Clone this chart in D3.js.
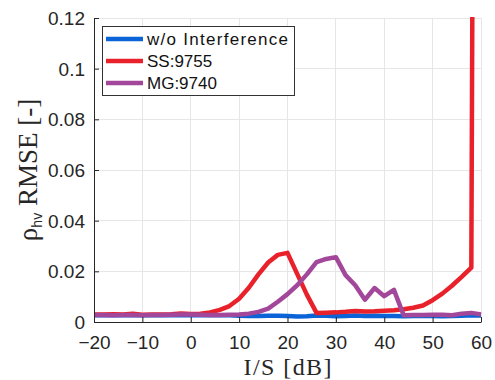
<!DOCTYPE html>
<html><head><meta charset="utf-8">
<script src="https://cdn.jsdelivr.net/npm/d3@7"></script>
<style>body{margin:0;background:#fff}svg{display:block}</style>
</head><body>
<svg id="c" width="495" height="380"></svg>
<script>
const isdB = [-20,-18,-16,-14,-12,-10,-8,-6,-4,-2,0,2,4,6,8,10,12,14,16,18,20,22,24,26,28,30,32,34,36,38,40,42,44,46,48,50,52,54,56,58,60];
const woInterference = [0.0027,0.0027,0.0027,0.0027,0.0027,0.0027,0.0027,0.0027,0.0027,0.0027,0.0027,0.0027,0.0027,0.0027,0.0027,
  0.0025,0.0024,0.0024,0.0025,0.0025,0.0024,0.0022,0.0023,0.0026,0.0025,0.0023,0.0024,0.0026,0.0024,0.0025,0.0024,0.0024,0.0023,0.0024,0.0024,0.0024,0.0023,0.0024,0.0025,0.0027,0.0026];
const ss9755 = [0.0030,0.0030,0.0031,0.0030,0.0033,0.0029,0.0030,0.0030,0.0031,0.0034,
  0.0032,0.0033,0.0038,0.0048,0.0063,0.0092,0.0135,0.0188,0.0235,0.0265,
  0.0273,0.0190,0.0108,0.0036,0.0037,0.0038,0.0040,0.0043,0.0041,0.0042,
  0.0044,0.0046,0.0050,0.0056,0.0065,0.0086,0.0112,0.0143,0.0178,0.0215,1.0];
const mg9740 = [0.0028,0.0028,0.0027,0.0028,0.0028,0.0027,0.0028,0.0028,0.0029,0.0030,
  0.0030,0.0029,0.0028,0.0028,0.0029,0.0030,0.0033,0.0040,0.0053,0.0080,
  0.0110,0.0145,0.0188,0.0236,0.0249,0.0256,0.0185,0.0145,0.0088,0.0134,
  0.0102,0.0127,0.0027,0.0028,0.0028,0.0029,0.0029,0.0027,0.0033,0.0036,0.0030];
const seriesNames = ["w/o Interference","SS:9755","MG:9740"];
const seriesColors = ["#0a64d8","#e8212a","#a3479b"];
const xTicks = [-20,-10,0,10,20,30,40,50,60];
const xTickLabels = ["\u221220","\u221210","0","10","20","30","40","50","60"];
const yTicks = [0,0.02,0.04,0.06,0.08,0.1,0.12];
const yTickLabels = ["0","0.02","0.04","0.06","0.08","0.1","0.12"];

const svg = d3.select("#c");
const L = 94, R = 481, T = 18, B = 322;
const x = d3.scaleLinear().domain([-20,60]).range([L,R]);
const y = d3.scaleLinear().domain([0,0.12]).range([B,T]);

// grid
const g = svg.append("g");
g.selectAll(".gx").data(xTicks).enter().append("line")
  .attr("x1",d=>x(d)).attr("x2",d=>x(d)).attr("y1",T).attr("y2",B)
  .attr("stroke","#e6e6e6").attr("stroke-width",1).attr("shape-rendering","crispEdges");
g.selectAll(".gy").data(yTicks).enter().append("line")
  .attr("x1",L).attr("x2",R).attr("y1",d=>y(d)).attr("y2",d=>y(d))
  .attr("stroke","#e6e6e6").attr("stroke-width",1).attr("shape-rendering","crispEdges");

svg.append("clipPath").attr("id","clip").append("rect")
  .attr("x",L).attr("y",T-1).attr("width",R-L+3).attr("height",B-T+1);

const series = [woInterference, ss9755, mg9740];
const line = d3.line().x((d,i)=>x(isdB[i])).y(d=>y(d));
const lg = svg.append("g").attr("clip-path","url(#clip)");
series.forEach((s,k)=>{
  lg.append("path").attr("d",line(s)).attr("fill","none")
    .attr("stroke",seriesColors[k]).attr("stroke-width",4.5)
    .attr("stroke-linejoin","round");
});

// axes
const font = "'Liberation Sans', Arial, sans-serif";
const xAxis = d3.axisBottom(x).tickValues(xTicks).tickFormat((d,i)=>xTickLabels[i])
  .tickSizeInner(-5).tickSizeOuter(0).tickPadding(14);
const ax = svg.append("g").attr("transform",`translate(0,${B})`).call(xAxis);
const yAxis = d3.axisLeft(y).tickValues(yTicks).tickFormat((d,i)=>yTickLabels[i])
  .tickSizeInner(-5).tickSizeOuter(0).tickPadding(9);
const ay = svg.append("g").attr("transform",`translate(${L},0)`).call(yAxis);
[ax,ay].forEach(a=>{
  a.select(".domain").attr("stroke","#262626");
  a.selectAll(".tick line").attr("stroke","#262626");
  a.selectAll(".tick text").attr("fill","#262626").style("font-family",font).style("font-size","19px");
});
ay.selectAll(".tick text").attr("dy","0.35em");

// axis labels
svg.append("text").attr("x",(L+R)/2).attr("y",375).attr("text-anchor","middle")
  .style("font-family","'Liberation Serif', 'Times New Roman', serif").style("font-size","24px")
  .attr("fill","#262626").attr("textLength",88).attr("lengthAdjust","spacing").text("I/S [dB]");

const yl = svg.append("text").attr("transform","translate(37,170) rotate(-90)").attr("text-anchor","middle")
  .style("font-family","'Liberation Serif', 'Times New Roman', serif").style("font-size","27px").attr("fill","#262626");
yl.append("tspan").text("\u03c1");
yl.append("tspan").attr("dy","5").style("font-size","14px").style("font-family","'Liberation Sans', sans-serif").text("hv");
yl.append("tspan").attr("dy","-5").text(" RMSE [-]");

// legend
const leg = svg.append("g");
leg.append("rect").attr("x",102.5).attr("y",26.5).attr("width",192).attr("height",69)
  .attr("fill","#fff").attr("stroke","#333").attr("stroke-width",1);
const rowsY = [39,61,83];
seriesNames.forEach((n,k)=>{
  leg.append("line").attr("x1",106).attr("x2",143).attr("y1",rowsY[k]).attr("y2",rowsY[k])
    .attr("stroke",seriesColors[k]).attr("stroke-width",4.5);
  const t = leg.append("text").attr("x",147).attr("y",rowsY[k]+6).attr("fill","#111")
    .style("font-family",font).style("font-size","17px").text(n);
  if(k===0) t.attr("textLength",141).attr("lengthAdjust","spacing");
});
</script>
</body></html>
